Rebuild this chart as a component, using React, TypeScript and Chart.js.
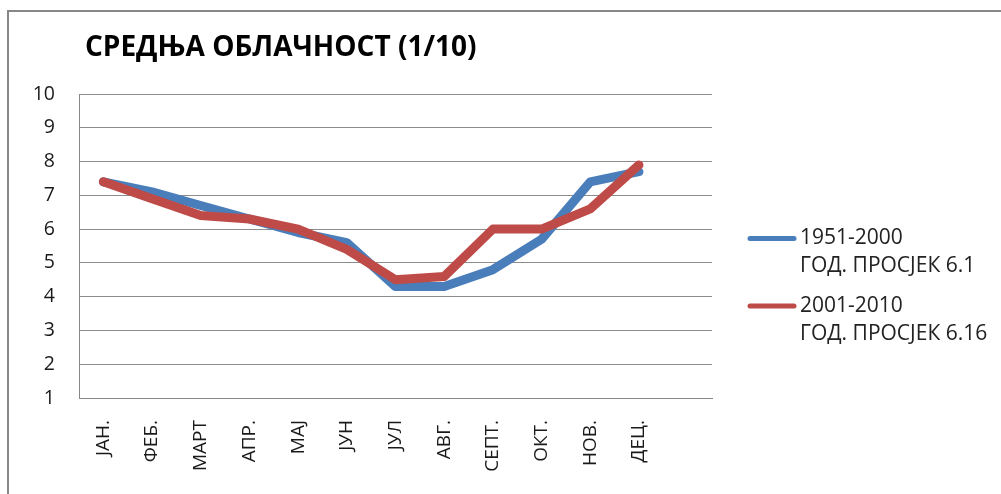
import React, { useEffect, useRef } from "react";
import { Chart, registerables } from "chart.js";

Chart.register(...registerables);

const TITLE = "СРЕДЊА ОБЛАЧНОСТ (1/10)";
const MONTHS = ["ЈАН.", "ФЕБ.", "МАРТ", "АПР.", "МАЈ", "ЈУН", "ЈУЛ", "АВГ.", "СЕПТ.", "ОКТ.", "НОВ.", "ДЕЦ.", ""];
const SERIES_1951_2000 = [7.4, 7.1, 6.7, 6.3, 5.9, 5.6, 4.3, 4.3, 4.8, 5.7, 7.4, 7.7, null];
const SERIES_2001_2010 = [7.4, 6.9, 6.4, 6.3, 6.0, 5.4, 4.5, 4.6, 6.0, 6.0, 6.6, 7.9, null];
const LEGEND_1 = ["1951-2000", "ГОД. ПРОСЈЕК 6.1"];
const LEGEND_2 = ["2001-2010", "ГОД. ПРОСЈЕК 6.16"];
const Y_MIN = 1;
const Y_MAX = 10;

const BLUE = "#4A7EBB";
const RED = "#BE4B48";
const FONT = "'Open Sans', 'DejaVu Sans', sans-serif";

const decorPlugin = {
  id: "decor",
  afterDraw(chart: any) {
    const ctx = chart.ctx;
    ctx.save();
    // title
    ctx.fillStyle = "#000";
    ctx.font = `bold 28px ${FONT}`;
    ctx.textAlign = "left";
    ctx.textBaseline = "middle";
    ctx.fillText(TITLE, 85, 48);

    // legend
    const entries = [
      { color: BLUE, lines: LEGEND_1, y: 238.5 },
      { color: RED, lines: LEGEND_2, y: 306 },
    ];
    ctx.font = `21px ${FONT}`;
    ctx.fillStyle = "#222";
    for (const e of entries) {
      ctx.strokeStyle = e.color;
      ctx.lineWidth = 5;
      ctx.lineCap = "round";
      ctx.beginPath();
      ctx.moveTo(750, e.y);
      ctx.lineTo(794, e.y);
      ctx.stroke();
      e.lines.forEach((t, i) => {
        ctx.fillText(t, 800, e.y + i * 28);
      });
    }
    ctx.restore();
  },
};

export default function App() {
  const ref = useRef<HTMLCanvasElement>(null);

  useEffect(() => {
    if (!ref.current) return;
    const chart = new Chart(ref.current, {
      type: "line",
      data: {
        labels: MONTHS,
        datasets: [
          {
            label: LEGEND_1.join(" "),
            data: SERIES_1951_2000,
            borderColor: BLUE,
            backgroundColor: BLUE,
            borderWidth: 9,
            pointRadius: 0,
            borderCapStyle: "round",
            borderJoinStyle: "round",
            tension: 0,
            order: 1,
          },
          {
            label: LEGEND_2.join(" "),
            data: SERIES_2001_2010,
            borderColor: RED,
            backgroundColor: RED,
            borderWidth: 9,
            pointRadius: 0,
            borderCapStyle: "round",
            borderJoinStyle: "round",
            tension: 0,
            order: 0,
          },
        ],
      },
      options: {
        animation: false,
        responsive: false,
        maintainAspectRatio: false,
        layout: { padding: { left: 0, top: 94, right: 289, bottom: 0 } },
        plugins: {
          legend: { display: false },
          title: { display: false },
          tooltip: { enabled: false },
        },
        scales: {
          x: {
            offset: true,
            grid: { display: false, drawTicks: false },
            border: { display: true, color: "#888888", width: 1 },
            ticks: {
              autoSkip: false,
              minRotation: 90,
              maxRotation: 90,
              padding: 22,
              color: "#1a1a1a",
              font: { family: FONT, size: 19 },
            },
            afterFit(scale: any) {
              scale.height = 96;
            },
          },
          y: {
            min: Y_MIN,
            max: Y_MAX,
            grid: { color: "#8c8c8c", lineWidth: 1, drawTicks: false },
            border: { display: true, color: "#888888", width: 1 },
            ticks: {
              stepSize: 1,
              padding: 24,
              color: "#1a1a1a",
              font: { family: FONT, size: 19.5 },
            },
            afterFit(scale: any) {
              scale.width = 79;
            },
          },
        },
      },
      plugins: [decorPlugin],
    });
    return () => chart.destroy();
  }, []);

  return (
    <div style={{ position: "fixed", left: 0, top: 0, width: 1001, height: 494, background: "#fff", overflow: "hidden" }}>
      <div
        style={{
          position: "absolute",
          left: 7,
          top: 10,
          width: 1010,
          height: 510,
          border: "2px solid #878787",
          boxSizing: "border-box",
        }}
      />
      <canvas ref={ref} width={1001} height={494} style={{ position: "absolute", left: 0, top: 0, width: 1001, height: 494 }} />
    </div>
  );
}
